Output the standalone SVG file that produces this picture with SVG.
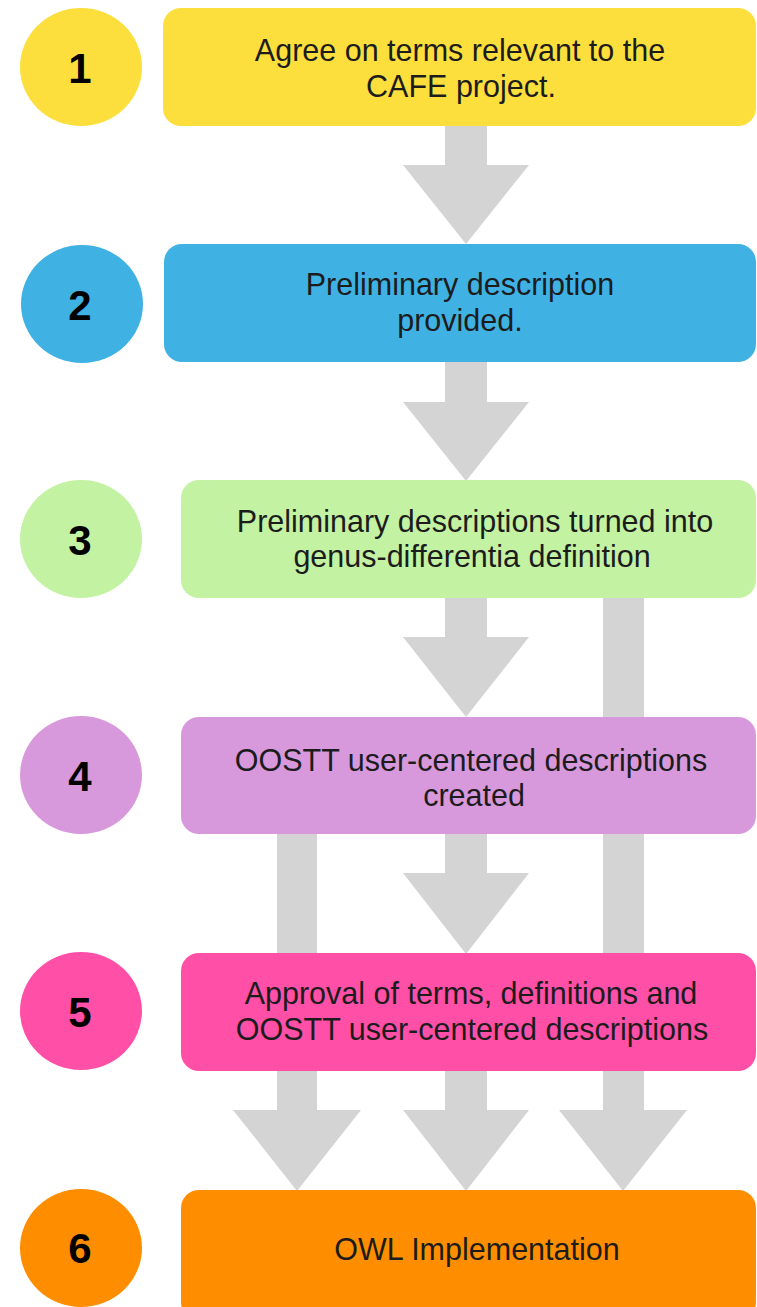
<svg xmlns="http://www.w3.org/2000/svg" width="757" height="1307" viewBox="0 0 757 1307">
<style>
.arrow{fill:#d4d4d4;stroke:none}
.lbl{font-family:"Liberation Sans",Arial,Helvetica,sans-serif;font-size:30.5px;fill:#1c1c1c;text-anchor:middle}
.num{font-family:"Liberation Sans",Arial,Helvetica,sans-serif;font-size:42px;font-weight:bold;fill:#000;text-anchor:middle}
</style>
<rect width="757" height="1307" fill="#ffffff"/>
<g id="connectors">
<path class="arrow" d="M445 120 H487 V165 H529 L466 244 L403 165 H445 Z"/>
<path class="arrow" d="M445 356 H487 V402 H529 L466 481 L403 402 H445 Z"/>
<path class="arrow" d="M445 592 H487 V637 H529 L466 717 L403 637 H445 Z"/>
<path class="arrow" d="M445 828 H487 V873 H529 L466 954 L403 873 H445 Z"/>
<path class="arrow" d="M445 1065 H487 V1110 H529 L466 1191 L403 1110 H445 Z"/>
<path class="arrow" d="M603 592 H644 V1110 H687 L623 1191 L559 1110 H603 Z"/>
<path class="arrow" d="M277 828 H317 V1110 H361 L297 1191 L233 1110 H277 Z"/>
</g>
<g id="step1">
<ellipse cx="81" cy="67" rx="61" ry="59" fill="#fcdf3c"/>
<text class="num" x="80" y="83">1</text>
<rect x="163" y="8" width="593" height="118" rx="18" fill="#fcdf3c"/>
<text class="lbl" x="460" y="61">Agree on terms relevant to the</text>
<text class="lbl" x="461" y="97">CAFE project.</text>
</g>
<g id="step2">
<ellipse cx="82" cy="304" rx="61" ry="59" fill="#40b1e3"/>
<text class="num" x="80" y="320">2</text>
<rect x="164" y="244" width="592" height="118" rx="18" fill="#40b1e3"/>
<text class="lbl" x="460" y="295">Preliminary description</text>
<text class="lbl" x="460" y="331">provided.</text>
</g>
<g id="step3">
<ellipse cx="81" cy="539" rx="61" ry="59" fill="#c3f2a3"/>
<text class="num" x="80" y="555">3</text>
<rect x="181" y="480" width="575" height="118" rx="18" fill="#c3f2a3"/>
<text class="lbl" x="475" y="532">Preliminary descriptions turned into</text>
<text class="lbl" x="472" y="567">genus-differentia definition</text>
</g>
<g id="step4">
<ellipse cx="81" cy="775" rx="61" ry="59" fill="#d899dc"/>
<text class="num" x="80" y="791">4</text>
<rect x="181" y="717" width="575" height="117" rx="18" fill="#d899dc"/>
<text class="lbl" x="471" y="771">OOSTT user-centered descriptions</text>
<text class="lbl" x="474" y="806">created</text>
</g>
<g id="step5">
<ellipse cx="81" cy="1011" rx="61" ry="59" fill="#ff4fa7"/>
<text class="num" x="80" y="1027">5</text>
<rect x="181" y="953" width="575" height="118" rx="18" fill="#ff4fa7"/>
<text class="lbl" x="471" y="1004">Approval of terms, definitions and</text>
<text class="lbl" x="472" y="1040">OOSTT user-centered descriptions</text>
</g>
<g id="step6">
<ellipse cx="81" cy="1248" rx="61" ry="59" fill="#fe8d00"/>
<text class="num" x="80" y="1263">6</text>
<rect x="181" y="1190" width="575" height="130" rx="18" fill="#fe8d00"/>
<text class="lbl" x="477" y="1260">OWL Implementation</text>
</g>
</svg>
